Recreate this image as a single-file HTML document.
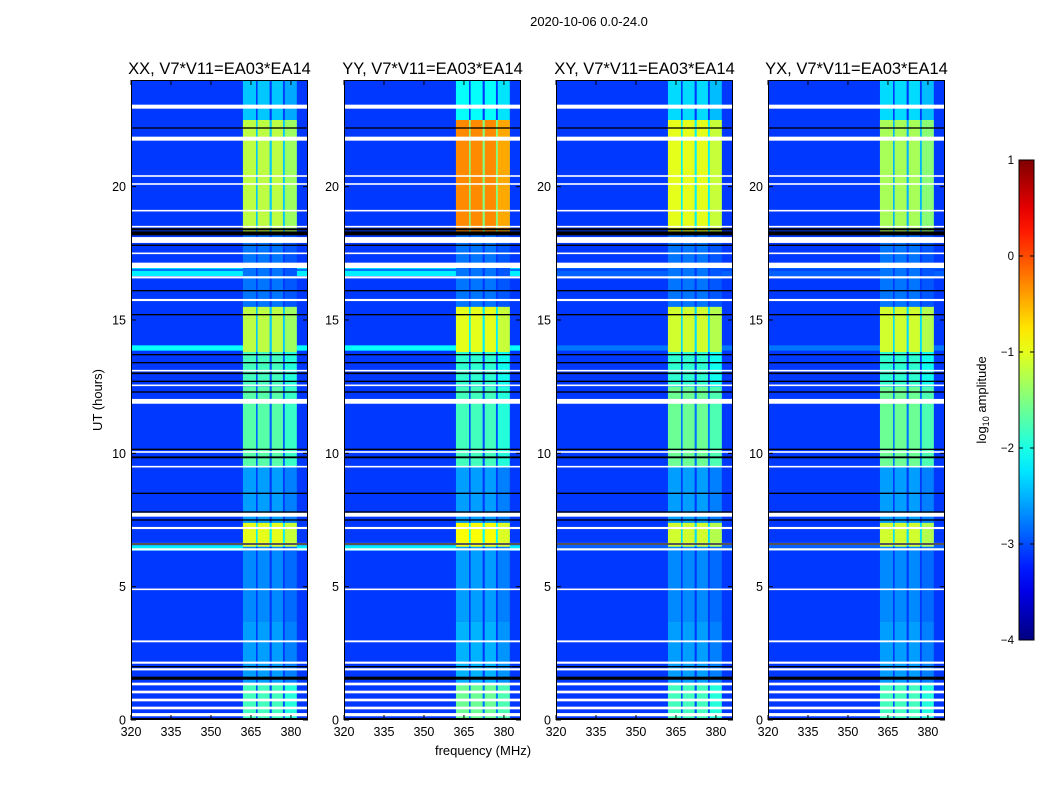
<!DOCTYPE html>
<html><head><meta charset="utf-8"><style>
body{margin:0;background:#fff;width:1050px;height:800px;overflow:hidden;font-family:"Liberation Sans",sans-serif}
svg text{font-family:"Liberation Sans","DejaVu Sans",sans-serif}
</style></head><body>
<svg id="chart" width="1050" height="800" xmlns="http://www.w3.org/2000/svg"></svg>
<script>
// ---- data ----
const panelTitles = ["XX, V7*V11=EA03*EA14","YY, V7*V11=EA03*EA14","XY, V7*V11=EA03*EA14","YX, V7*V11=EA03*EA14"];
const xTicks = [320,335,350,365,380];
const yTicks = [0,5,10,15,20];
const cbTicks = [-4,-3,-2,-1,0,1];
const backgroundLevel = -3.1;
// sub-band frequency ranges (MHz)
const subBandStart = [362.0,367.5,372.8,377.7];
const subBandEnd   = [366.9,372.0,377.0,382.2];
// time segments (hours) and band log-amplitude per panel
const segStart = [0.0,1.4,3.7,6.5,7.4,9.5,12.5,13.8,15.5,18.3,22.5];
const segEnd   = [1.4,3.7,6.5,7.4,9.5,12.5,13.8,15.5,18.3,22.5,24.0];
const levelXX  = [-1.8,-2.6,-2.7,-1.0,-2.6,-1.7,-1.8,-1.2,-2.8,-1.2,-2.4];
const levelYY  = [-1.6,-2.5,-2.6,-0.9,-2.6,-1.8,-1.9,-1.0,-2.8,-0.3,-2.1];
const levelXY  = [-1.8,-2.6,-2.7,-1.1,-2.6,-1.6,-1.9,-1.1,-2.8,-1.0,-2.3];
const levelYX  = [-1.8,-2.6,-2.7,-1.1,-2.6,-1.6,-1.9,-1.1,-2.8,-1.3,-2.3];
const panelLevels = [levelXX,levelYY,levelXY,levelYX];
// full-width elevated rows
const rowStart = [6.35,13.85,16.65,16.9];
const rowEnd   = [6.55,14.05,16.85,17.0];
const rowLevelCo = [-2.2,-2.1,-2.2,-2.3];
const rowLevelCross = [-2.9,-2.8,-2.9,-2.9];
// flagged rows
const whiteT = [0.2,0.45,0.75,1.05,1.35,1.9,2.15,2.95,4.9,6.4,6.6,7.2,7.7,9.5,10.05,11.95,12.55,13.1,15.75,16.6,17.05,17.5,18.0,18.5,19.1,20.1,20.4,21.8,23.0];
const whiteH = [0.12,0.1,0.1,0.1,0.1,0.08,0.08,0.07,0.06,0.08,0.08,0.08,0.15,0.06,0.06,0.18,0.06,0.06,0.08,0.08,0.2,0.06,0.22,0.06,0.06,0.06,0.06,0.15,0.15];
const blackT = [0.05,1.55,1.6,2.0,6.6,7.5,7.8,8.5,9.85,10.15,12.3,12.7,13.0,13.4,13.7,15.2,16.1,17.8,18.25,18.4,22.2];
const blackH = [0.05,0.08,0.05,0.05,0.05,0.05,0.05,0.05,0.07,0.05,0.05,0.05,0.06,0.05,0.05,0.05,0.05,0.05,0.15,0.08,0.05];

// ---- layout ----
const panelX = [131,344,556,768], panelW = 177, plotTop = 80, plotBottom = 720;
const fMin = 320, fMax = 386.4, tMin = 0, tMax = 24, vMin = -4, vMax = 1;
const NS = "http://www.w3.org/2000/svg";
const svg = document.getElementById('chart');
function xs(p,f){return panelX[p] + (f-fMin)/(fMax-fMin)*panelW;}
function ys(t){return plotBottom - (t-tMin)/(tMax-tMin)*(plotBottom-plotTop);}
function cl(v){return Math.max(0,Math.min(1,v));}
function jet(v){const n=(v-vMin)/(vMax-vMin);
  const r=cl(1.5-Math.abs(4*n-3)),g=cl(1.5-Math.abs(4*n-2)),b=cl(1.5-Math.abs(4*n-1));
  return `rgb(${Math.round(r*255)},${Math.round(g*255)},${Math.round(b*255)})`;}
function mk(tag,attrs,parent){const e=document.createElementNS(NS,tag);for(const k in attrs)e.setAttribute(k,attrs[k]);(parent||svg).appendChild(e);return e;}
function txt(x,y,s,size,anchor,parent){const e=mk('text',{x:x,y:y,'font-size':size,'text-anchor':anchor||'middle',fill:'#000'},parent);e.textContent=s;return e;}

const sup = txt(589,26,"2020-10-06 0.0-24.0",13);



for(let p=0;p<4;p++){
  const g = mk('g',{});
  
  
  const clipId='c'+p;
  const cp=mk('clipPath',{id:clipId},g); mk('rect',{x:panelX[p],y:plotTop,width:panelW,height:plotBottom-plotTop},cp);
  const hm = mk('g',{'clip-path':`url(#${clipId})`},g);
  
  
  const bg = mk('rect',{x:panelX[p],y:plotTop,width:panelW,height:plotBottom-plotTop,fill:jet(backgroundLevel)},hm);
  
  
  const lv = panelLevels[p];
  for(let r=0;r<rowStart.length;r++){
    const v = p<2 ? rowLevelCo[r] : rowLevelCross[r];
    const e = mk('rect',{x:panelX[p],y:ys(rowEnd[r]),width:panelW,height:ys(rowStart[r])-ys(rowEnd[r]),fill:jet(v)},hm);
    
    
  }
  for(let s=0;s<segStart.length;s++){
    const gap = mk('rect',{x:xs(p,subBandStart[0]),y:ys(segEnd[s]),width:xs(p,subBandEnd[3])-xs(p,subBandStart[0]),height:ys(segStart[s])-ys(segEnd[s]),fill:jet(Math.max(backgroundLevel,lv[s]-1.2))},hm);
    
    
    for(let b=0;b<subBandStart.length;b++){
      const v = lv[s] - (b===3?0.15:0);
      const e = mk('rect',{x:xs(p,subBandStart[b]),y:ys(segEnd[s]),width:xs(p,subBandEnd[b])-xs(p,subBandStart[b]),height:ys(segStart[s])-ys(segEnd[s]),fill:jet(v)},hm);
      
      
    }
  }
  for(let i=0;i<whiteT.length;i++){
    const e = mk('rect',{x:panelX[p],y:ys(whiteT[i]+whiteH[i]/2),width:panelW,height:Math.max(1.5,ys(whiteT[i])-ys(whiteT[i]+whiteH[i])),fill:'#fff'},hm);
    
    
  }
  for(let i=0;i<blackT.length;i++){
    const e = mk('rect',{x:panelX[p],y:ys(blackT[i]+blackH[i]/2),width:panelW,height:Math.max(1.2,ys(blackT[i])-ys(blackT[i]+blackH[i])),fill:'#000'},hm);
    
    
  }
  const fr = mk('rect',{x:panelX[p]+0.5,y:plotTop+0.5,width:panelW-1,height:plotBottom-plotTop-1,fill:'none',stroke:'#000','stroke-width':1},g);
  
  
  const t = txt(panelX[p]+panelW/2,74,panelTitles[p],16.5,'middle',g);
  
  
  for(const f of xTicks){
    const x=xs(p,f);
    mk('line',{x1:x,x2:x,y1:plotBottom,y2:plotBottom-5,stroke:'#000'},g);
    mk('line',{x1:x,x2:x,y1:plotTop,y2:plotTop+5,stroke:'#000'},g);
    const l=txt(x,736,String(f),12.5,'middle',g);
    
    
  }
  for(const tt of yTicks){
    const y=ys(tt);
    mk('line',{x1:panelX[p],x2:panelX[p]+5,y1:y,y2:y,stroke:'#000'},g);
    mk('line',{x1:panelX[p]+panelW,x2:panelX[p]+panelW-5,y1:y,y2:y,stroke:'#000'},g);
    const l=txt(panelX[p]-5,y+4.5,String(tt),12.5,'end',g);
    
    
  }
}
const yl = txt(0,0,"UT (hours)",13);
yl.setAttribute('transform','translate(102,400) rotate(-90)');


const xl = txt(483,755,"frequency (MHz)",13);



// colorbar
const cb = mk('g',{});


const defs = mk('defs',{},cb);
const grad = mk('linearGradient',{id:'jetg',x1:0,y1:1,x2:0,y2:0},defs);
for(let i=0;i<=20;i++){const v=vMin+(vMax-vMin)*i/20;mk('stop',{offset:i/20,'stop-color':jet(v)},grad);}
const cbT=160, cbB=640, cbX=1019, cbW=15;
mk('rect',{x:cbX,y:cbT,width:cbW,height:cbB-cbT,fill:'url(#jetg)',stroke:'#000','stroke-width':1},cb);
for(const v of cbTicks){
  const y = cbB - (v-vMin)/(vMax-vMin)*(cbB-cbT);
  mk('line',{x1:cbX,x2:cbX+4,y1:y,y2:y,stroke:'#000'},cb);
  mk('line',{x1:cbX+cbW,x2:cbX+cbW-4,y1:y,y2:y,stroke:'#000'},cb);
  const l=txt(cbX-5,y+4,(v<0?"\u2212":"")+Math.abs(v),11.5,'end',cb);
  
  
}
const cl2 = mk('text',{transform:'translate(986,400) rotate(-90)','font-size':13,'text-anchor':'middle'},cb);
cl2.innerHTML='log<tspan font-size="9" dy="3">10</tspan><tspan dy="-3"> amplitude</tspan>';


</script>
</body></html>
